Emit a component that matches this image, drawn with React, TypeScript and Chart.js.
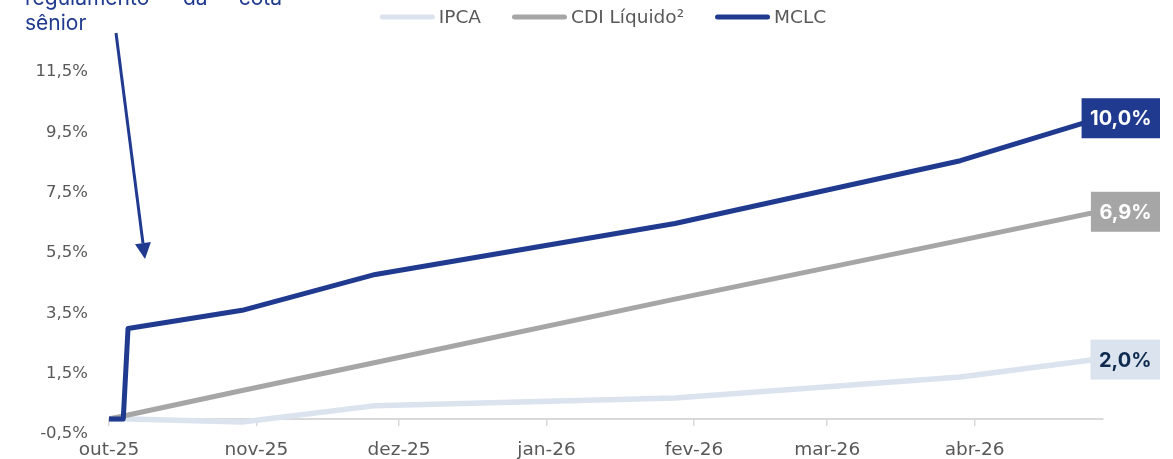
import React, { useEffect, useRef } from "react";
import { Chart, registerables } from "chart.js";

Chart.register(...registerables);

// ---- data ----
const dates = [
  "2025-10-01",
  "2025-10-04",
  "2025-10-05",
  "2025-10-29",
  "2025-11-26",
  "2026-01-28",
  "2026-03-29",
  "2026-04-28",
];
const ipca = [0.0, 0.0, 0.0, -0.1, 0.44, 0.69, 1.39, 2.0];
const cdi = [0.0, 0.1, 0.13, 0.94, 1.87, 3.97, 5.92, 6.9];
const mclc = [0.0, 0.0, 3.0, 3.6, 4.79, 6.48, 8.56, 10.0];

const seriesNames = ["IPCA", "CDI Líquido²", "MCLC"];
const tickDates = [
  "2025-10-01",
  "2025-11-01",
  "2025-12-01",
  "2026-01-01",
  "2026-02-01",
  "2026-03-01",
  "2026-04-01",
];
const tickLabels = ["out-25", "nov-25", "dez-25", "jan-26", "fev-26", "mar-26", "abr-26"];
const axisEndDate = "2026-04-28";
const yMin = -0.5;
const yMax = 11.5;
const yStep = 2;
const noteLine1 = ["regulamento", "da", "cota"];
const noteLine2 = "sênior";

// ---- helpers ----
const DAY = 86400000;
const BASE = Date.UTC(2025, 9, 1);
const toDay = (s: string) => {
  const [y, m, d] = s.split("-").map(Number);
  return Math.round((Date.UTC(y, m - 1, d) - BASE) / DAY);
};
const fmt = (v: number) => v.toFixed(1).replace(".", ",") + "%";

const FONT = "'DejaVu Sans'";
const BOLD_FONT = "Inter";
const BLUE = "#1f3a8f";
const GRAY = "#a6a6a6";
const LIGHT = "#dbe3ef";
const TEXT = "#595959";

const legendPlugin = {
  id: "customLegend",
  afterDraw(chart: any) {
    const ctx = chart.ctx;
    ctx.save();
    ctx.font = `18.5px ${FONT}`;
    const sample = 55;
    const gap = 4;
    const spacing = 31;
    const items = chart.data.datasets.map((ds: any) => ({
      label: ds.label,
      color: ds.borderColor,
      w: sample + gap + ctx.measureText(ds.label).width,
    }));
    const total = items.reduce((a: number, it: any) => a + it.w, 0) + spacing * (items.length - 1);
    let x = 603 - total / 2;
    const y = 17;
    items.forEach((it: any) => {
      ctx.strokeStyle = it.color;
      ctx.lineWidth = 5;
      ctx.lineCap = "round";
      ctx.beginPath();
      ctx.moveTo(x + 2.5, y);
      ctx.lineTo(x + sample - 2.5, y);
      ctx.stroke();
      ctx.fillStyle = TEXT;
      ctx.textAlign = "left";
      ctx.textBaseline = "middle";
      ctx.fillText(it.label, x + sample + gap, y + 1);
      x += it.w + spacing;
    });
    ctx.restore();
  },
};

const endLabelPlugin = {
  id: "endLabels",
  afterDatasetsDraw(chart: any) {
    const ctx = chart.ctx;
    chart.data.datasets.forEach((ds: any, i: number) => {
      const meta = chart.getDatasetMeta(i);
      const pt = meta.data[meta.data.length - 1];
      const v = ds.data[ds.data.length - 1].y;
      const text = fmt(v);
      ctx.save();
      ctx.font = `bold 20px ${BOLD_FONT}`;
      const w = ctx.measureText(text).width;
      const bw = w + 17;
      const bh = 40;
      const right = chart.chartArea.right + 57;
      const x0 = right - bw;
      const y0 = pt.y - bh / 2 + 1;
      ctx.fillStyle = ds.borderColor;
      ctx.fillRect(x0, y0, bw, bh);
      ctx.fillStyle = ds.endLabelColor;
      ctx.textAlign = "center";
      ctx.textBaseline = "middle";
      ctx.fillText(text, x0 + bw / 2, y0 + bh / 2 + 1);
      ctx.restore();
    });
  },
};

const notePlugin = {
  id: "note",
  afterDraw(chart: any) {
    const ctx = chart.ctx;
    ctx.save();
    ctx.fillStyle = BLUE;
    ctx.font = `21px Inter`;
    ctx.textBaseline = "alphabetic";
    ctx.textAlign = "left";
    ctx.fillText(noteLine1[0], 25, 5);
    ctx.fillText(noteLine1[1], 183, 5);
    ctx.textAlign = "right";
    ctx.fillText(noteLine1[2], 282, 5);
    ctx.textAlign = "left";
    ctx.fillText(noteLine2, 25, 30);
    // arrow
    const sx = 116, sy = 33, ex = 145, ey = 259;
    const dx = ex - sx, dy = ey - sy;
    const len = Math.hypot(dx, dy);
    const ux = dx / len, uy = dy / len;
    const head = 16, hw = 8;
    const bx = ex - ux * head, by = ey - uy * head;
    ctx.strokeStyle = BLUE;
    ctx.lineWidth = 3;
    ctx.beginPath();
    ctx.moveTo(sx, sy);
    ctx.lineTo(bx, by);
    ctx.stroke();
    ctx.beginPath();
    ctx.moveTo(ex, ey);
    ctx.lineTo(bx - uy * hw, by + ux * hw);
    ctx.lineTo(bx + uy * hw, by - ux * hw);
    ctx.closePath();
    ctx.fillStyle = BLUE;
    ctx.fill();
    ctx.restore();
  },
};

export default function App() {
  const ref = useRef<HTMLCanvasElement | null>(null);

  useEffect(() => {
    if (!ref.current) return;
    const pts = (vals: number[]) => dates.map((d, i) => ({ x: toDay(d), y: vals[i] }));
    const common = {
      pointRadius: 0,
      pointHoverRadius: 0,
      borderWidth: 5,
      borderCapStyle: "round",
      borderJoinStyle: "round",
      tension: 0,
      fill: false,
    };
    const chart = new Chart(ref.current, {
      type: "line",
      data: {
        datasets: [
          { ...common, label: seriesNames[0], data: pts(ipca), borderColor: LIGHT, backgroundColor: LIGHT, borderWidth: 5.5, order: 2, endLabelColor: "#0e2b4f" } as any,
          { ...common, label: seriesNames[1], data: pts(cdi), borderColor: GRAY, backgroundColor: GRAY, order: 1, endLabelColor: "#ffffff" } as any,
          { ...common, label: seriesNames[2], data: pts(mclc), borderColor: BLUE, backgroundColor: BLUE, order: 0, endLabelColor: "#ffffff" } as any,
        ],
      },
      options: {
        animation: false,
        responsive: false,
        maintainAspectRatio: false,
        layout: { padding: { top: 72, right: 70, bottom: 25, left: 0 } },
        plugins: {
          legend: { display: false },
          tooltip: { enabled: false },
          title: { display: false },
        },
        scales: {
          x: {
            type: "linear",
            min: 0,
            max: toDay(axisEndDate),
            position: { y: 0 } as any,
            afterBuildTicks: (s: any) => {
              s.ticks = tickDates.map((d) => ({ value: toDay(d) }));
            },
            ticks: {
              autoSkip: false,
              maxRotation: 0,
              padding: 14,
              color: TEXT,
              font: { family: FONT, size: 18.5 },
              callback: (_v: any, i: number) => tickLabels[i],
            },
            grid: {
              display: true,
              drawOnChartArea: false,
              drawTicks: true,
              tickLength: 6,
              color: "#d9d9d9",
              lineWidth: 1.5,
            },
            border: { display: true, color: "#d9d9d9", width: 2 },
          },
          y: {
            type: "linear",
            min: yMin,
            max: yMax,
            afterFit: (s: any) => {
              s.width = 109;
              s.paddingTop = 0;
              s.paddingBottom = 0;
            },
            ticks: {
              stepSize: yStep,
              padding: 21,
              color: TEXT,
              font: { family: FONT, size: 16.5 },
              callback: (v: any) => fmt(Number(v)),
            },
            grid: { display: false, drawTicks: false },
            border: { display: false },
          },
        },
      } as any,
      plugins: [endLabelPlugin, legendPlugin, notePlugin],
    });
    return () => chart.destroy();
  }, []);

  return (
    <div style={{ position: "fixed", left: 0, top: 0, width: 1173, height: 459, background: "#ffffff" }}>
      <canvas ref={ref} width={1173} height={459} style={{ display: "block" }} />
    </div>
  );
}
